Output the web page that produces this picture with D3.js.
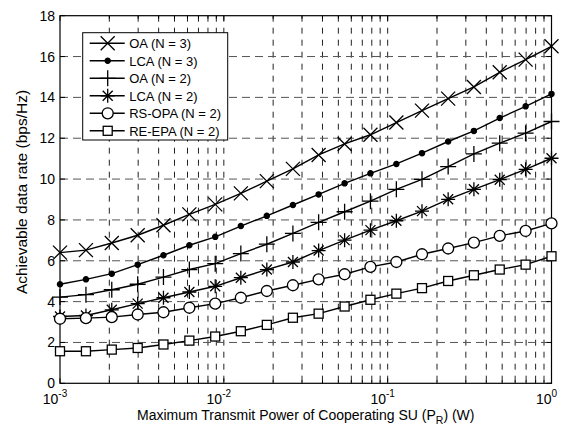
<!DOCTYPE html>
<html>
<head>
<meta charset="utf-8">
<script src="https://cdn.jsdelivr.net/npm/d3@7"></script>
<style>
  body { margin: 0; background: #fff; }
  text { font-family: "Liberation Sans", Arial, sans-serif; fill: #000; }
</style>
</head>
<body>
<div id="chart"></div>
<script>
// data
var power = [0.001, 0.00144, 0.00207, 0.00298, 0.00428, 0.00616, 0.00886, 0.0127, 0.0183, 0.0264,
             0.0379, 0.0546, 0.0785, 0.113, 0.162, 0.234, 0.336, 0.483, 0.695, 1];

var oaN3  = [6.4, 6.52, 6.87, 7.25, 7.74, 8.27, 8.76, 9.3, 9.9, 10.5,
             11.18, 11.72, 12.17, 12.77, 13.35, 13.94, 14.51, 15.23, 15.85, 16.5];
var lcaN3 = [4.85, 5.09, 5.37, 5.81, 6.27, 6.76, 7.17, 7.7, 8.2, 8.73,
             9.25, 9.79, 10.28, 10.74, 11.27, 11.84, 12.36, 12.99, 13.56, 14.17];
var oaN2  = [4.22, 4.34, 4.58, 4.85, 5.2, 5.57, 5.86, 6.35, 6.81, 7.34,
             7.88, 8.4, 8.92, 9.5, 9.99, 10.61, 11.23, 11.76, 12.25, 12.82];
var lcaN2 = [3.27, 3.32, 3.6, 3.9, 4.19, 4.47, 4.75, 5.17, 5.57, 5.94,
             6.5, 7.01, 7.5, 7.96, 8.43, 9.01, 9.5, 9.97, 10.48, 11.02];
var rsOpa = [3.16, 3.19, 3.24, 3.37, 3.48, 3.7, 3.9, 4.19, 4.52, 4.8,
             5.09, 5.34, 5.7, 5.94, 6.32, 6.6, 6.89, 7.22, 7.46, 7.83];
var reEpa = [1.57, 1.57, 1.65, 1.73, 1.9, 2.09, 2.29, 2.55, 2.86, 3.21,
             3.41, 3.76, 4.09, 4.39, 4.66, 5.01, 5.29, 5.57, 5.81, 6.22];

var seriesNames = ["OA (N = 3)", "LCA (N = 3)", "OA (N = 2)", "LCA (N = 2)", "RS-OPA (N = 2)", "RE-EPA (N = 2)"];
var seriesValues = [oaN3, lcaN3, oaN2, lcaN2, rsOpa, reEpa];
var seriesMarkers = ["x", "dot", "plus", "star", "circle", "square"];

var yTicks = [0, 2, 4, 6, 8, 10, 12, 14, 16, 18];
var xDecades = [-3, -2, -1, 0];

// set the dimensions and margins of the graph
var margin = {top: 15.7, right: 24.5, bottom: 50.7, left: 60},
    width = 576 - margin.left - margin.right,
    height = 434 - margin.top - margin.bottom;

var svg = d3.select("#chart")
  .append("svg")
    .attr("width", 576)
    .attr("height", 434)
  .append("g")
    .attr("transform", "translate(" + margin.left + "," + margin.top + ")");

var x = d3.scaleLog()
  .domain([1e-3, 1])
  .range([0, width]);

var y = d3.scaleLinear()
  .domain([0, 18])
  .range([height, 0]);

// minor + major log positions
var xGrid = [];
xDecades.forEach(function(e) {
  if (e === 0) { xGrid.push(1); return; }
  for (var k = 1; k <= 9; k++) xGrid.push(k * Math.pow(10, e));
});

// grid lines (dashed)
var grid = svg.append("g");
grid.selectAll(".vg")
  .data(xGrid.filter(function(d) { return d > 1e-3 && d < 1; }))
  .enter()
  .append("line")
    .attr("x1", function(d) { return x(d); })
    .attr("x2", function(d) { return x(d); })
    .attr("y1", 0)
    .attr("y2", height)
    .style("stroke", "#222")
    .style("stroke-width", 1)
    .style("stroke-dasharray", "6,6");
grid.selectAll(".hg")
  .data(yTicks.filter(function(d) { return d > 0 && d < 18; }))
  .enter()
  .append("line")
    .attr("x1", 0)
    .attr("x2", width)
    .attr("y1", function(d) { return y(d); })
    .attr("y2", function(d) { return y(d); })
    .style("stroke", "#555")
    .style("stroke-width", 1)
    .style("stroke-dasharray", "8,5");

// inner ticks on all four sides
var ticks = svg.append("g").style("stroke", "#000").style("stroke-width", 1);
xGrid.forEach(function(d) {
  var len = (Math.log10(d) % 1 === 0) ? 5 : 3;
  ticks.append("line").attr("x1", x(d)).attr("x2", x(d)).attr("y1", height).attr("y2", height - len);
  ticks.append("line").attr("x1", x(d)).attr("x2", x(d)).attr("y1", 0).attr("y2", len);
});
yTicks.forEach(function(d) {
  ticks.append("line").attr("x1", 0).attr("x2", 5).attr("y1", y(d)).attr("y2", y(d));
  ticks.append("line").attr("x1", width).attr("x2", width - 5).attr("y1", y(d)).attr("y2", y(d));
});

// frame
svg.append("rect")
  .attr("x", 0).attr("y", 0)
  .attr("width", width).attr("height", height)
  .style("fill", "none")
  .style("stroke", "#000")
  .style("stroke-width", 1.2);

// y tick labels
svg.append("g").selectAll("text")
  .data(yTicks)
  .enter()
  .append("text")
    .attr("x", -5)
    .attr("y", function(d) { return y(d) + 5; })
    .attr("text-anchor", "end")
    .style("font-size", "14px")
    .text(function(d) { return d; });

// x tick labels 10^e
var xl = svg.append("g").selectAll("text")
  .data(xDecades)
  .enter()
  .append("text")
    .attr("x", function(d) { return x(Math.pow(10, d)) - 5; })
    .attr("y", height + 20.5)
    .attr("text-anchor", "middle")
    .style("font-size", "14px");
xl.append("tspan").text("10");
xl.append("tspan")
  .attr("dy", -7)
  .style("font-size", "10px")
  .text(function(d) { return d; });

// axis titles
var xt = svg.append("text")
  .attr("x", width / 2)
  .attr("y", height + 36.5)
  .attr("text-anchor", "middle")
  .style("font-size", "14px");
xt.append("tspan").text("Maximum Transmit Power of Cooperating SU (P");
xt.append("tspan").attr("dy", 4).style("font-size", "10.5px").text("R");
xt.append("tspan").attr("dy", -4).text(") (W)");

svg.append("text")
  .attr("transform", "translate(" + (-33) + "," + 176.3 + ")rotate(-90)")
  .attr("text-anchor", "middle")
  .style("font-size", "15.5px")
  .text("Achievable data rate (bps/Hz)");

// marker drawing
function drawMarker(g, type, cx, cy) {
  var m = g.append("g").attr("transform", "translate(" + cx + "," + cy + ")")
    .style("stroke", "#000").style("stroke-width", 1.3).style("fill", "none");
  if (type === "x") {
    m.append("path").attr("d", "M-7,-7L7,7M-7,7L7,-7");
  } else if (type === "dot") {
    m.append("circle").attr("r", 2.6).style("fill", "#000");
  } else if (type === "plus") {
    m.append("path").attr("d", "M-8,0L8,0M0,-8L0,8");
  } else if (type === "star") {
    m.append("path").attr("d", "M-7,0L7,0M0,-7L0,7M-5,-5L5,5M-5,5L5,-5");
  } else if (type === "circle") {
    m.append("circle").attr("r", 5.5).style("fill", "#fff");
  } else if (type === "square") {
    m.append("rect").attr("x", -4.5).attr("y", -4.5).attr("width", 9).attr("height", 9).style("fill", "#fff");
  }
}

var line = d3.line()
  .x(function(d, i) { return x(power[i]); })
  .y(function(d) { return y(d); });

seriesValues.forEach(function(vals, s) {
  svg.append("path")
    .datum(vals)
    .attr("d", line)
    .style("fill", "none")
    .style("stroke", "#000")
    .style("stroke-width", 1.4);
});
seriesValues.forEach(function(vals, s) {
  var g = svg.append("g");
  vals.forEach(function(v, i) {
    drawMarker(g, seriesMarkers[s], x(power[i]), y(v));
  });
});

// legend
var legend = svg.append("g").attr("transform", "translate(22.7,17)");
legend.append("rect")
  .attr("x", 0).attr("y", 0)
  .attr("width", 145).attr("height", 107.3)
  .style("fill", "#fff")
  .style("stroke", "#000")
  .style("stroke-width", 1);
seriesNames.forEach(function(name, s) {
  var ly = 10.6 + s * 17.5;
  legend.append("line")
    .attr("x1", 7).attr("x2", 42)
    .attr("y1", ly).attr("y2", ly)
    .style("stroke", "#000").style("stroke-width", 1.4);
  drawMarker(legend, seriesMarkers[s], 25, ly);
  legend.append("text")
    .attr("x", 46.5)
    .attr("y", ly + 5)
    .style("font-size", "13px")
    .text(name);
});
</script>
</body>
</html>
